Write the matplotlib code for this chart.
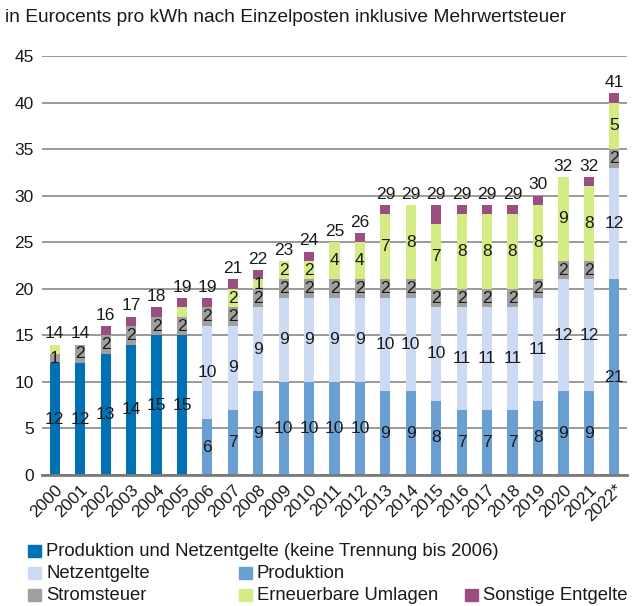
import matplotlib.pyplot as plt
from matplotlib.patches import Rectangle

plt.rcParams['font.family'] = ['Liberation Sans', 'DejaVu Sans']

years = ['2000', '2001', '2002', '2003', '2004', '2005', '2006', '2007',
         '2008', '2009', '2010', '2011', '2012', '2013', '2014', '2015',
         '2016', '2017', '2018', '2019', '2020', '2021', '2022*']

# Produktion und Netzentgelte combined (until 2005)
combined = [12, 12, 13, 14, 15, 15, 0, 0, 0, 0, 0, 0,
            0, 0, 0, 0, 0, 0, 0, 0, 0, 0, 0]
produktion = [0, 0, 0, 0, 0, 0, 6, 7, 9, 10, 10, 10,
              10, 9, 9, 8, 7, 7, 7, 8, 9, 9, 21]
netzentgelte = [0, 0, 0, 0, 0, 0, 10, 9, 9, 9, 9, 9,
                9, 10, 10, 10, 11, 11, 11, 11, 12, 12, 12]
stromsteuer = [1, 2, 2, 2, 2, 2, 2, 2, 2, 2, 2, 2,
               2, 2, 2, 2, 2, 2, 2, 2, 2, 2, 2]
umlagen = [1, 0, 0, 0, 0, 1, 0, 2, 1, 2, 2, 4,
           4, 7, 8, 7, 8, 8, 8, 8, 9, 8, 5]
sonstige = [0, 0, 1, 1, 1, 1, 1, 1, 1, 0, 1, 0,
            1, 1, 0, 2, 1, 1, 1, 1, 0, 1, 1]

c_comb = '#0071b5'
c_prod = '#6a9fd3'
c_netz = '#ccdaf3'
c_strom = '#a0a0a0'
c_uml = '#d5ec85'
c_sonst = '#9b4e82'

fig = plt.figure(figsize=(6.4, 6.06), dpi=100)
ax = fig.add_axes([42 / 640, 1 - 475 / 606, 585 / 640, 419 / 606])

x = list(range(len(years)))
w = 0.4
series = [
    (combined, c_comb, True),
    (produktion, c_prod, True),
    (netzentgelte, c_netz, True),
    (stromsteuer, c_strom, True),
    (umlagen, c_uml, 'late'),
    (sonstige, c_sonst, False),
]

bottom = [0] * len(years)
for values, color, labelled in series:
    ax.bar(x, values, w, bottom=bottom, color=color, zorder=2)
    for i, v in enumerate(values):
        show = labelled is True or (labelled == 'late' and i >= 7)
        if v > 0 and show:
            ax.text(i, bottom[i] + v / 2, str(v), ha='center', va='center',
                    fontsize=12.5, color='#1a1a1a', zorder=3)
    bottom = [b + v for b, v in zip(bottom, values)]

for i, total in enumerate(bottom):
    ax.text(i, total + 0.35, str(total), ha='center', va='bottom',
            fontsize=12.5, color='#1a1a1a')

ax.set_xlim(-0.5, len(years) - 0.5)
ax.set_ylim(0, 45)
ax.set_yticks(range(0, 46, 5))
ax.yaxis.grid(True, color='#9a9a9a', linewidth=1.4, zorder=0)
ax.set_axisbelow(True)
for s in ['top', 'right', 'left']:
    ax.spines[s].set_visible(False)
ax.spines['bottom'].set_color('#7a7a7a')
ax.spines['bottom'].set_linewidth(2)
ax.tick_params(axis='y', length=0, labelsize=12.5, pad=6, labelcolor='#1a1a1a')
ax.tick_params(axis='x', length=0, labelsize=12.5, pad=5, labelcolor='#1a1a1a')
ax.set_xticks(x)
ax.set_xticklabels(years, rotation=45, ha='right', va='top',
                   rotation_mode='anchor')

fig.text(5 / 640, 1 - 18 / 606, 'in Eurocents pro kWh nach Einzelposten inklusive Mehrwertsteuer',
         ha='left', va='center', fontsize=13.8, color='#1a1a1a')

# legend built from squares and labels
legend_items = [
    (28, 551, c_comb, 'Produktion und Netzentgelte (keine Trennung bis 2006)'),
    (28, 573, c_netz, 'Netzentgelte'),
    (239, 573, c_prod, 'Produktion'),
    (28, 595, c_strom, 'Stromsteuer'),
    (239, 595, c_uml, 'Erneuerbare Umlagen'),
    (465, 595, c_sonst, 'Sonstige Entgelte'),
]
for px, py, color, label in legend_items:
    fig.patches.append(Rectangle((px / 640, 1 - (py + 6) / 606), 13 / 640, 12 / 606,
                                 transform=fig.transFigure, color=color))
    fig.text((px + 18) / 640, 1 - py / 606, label, ha='left', va='center',
             fontsize=13.3, color='#1a1a1a')

fig.savefig('out.png', dpi=100)
